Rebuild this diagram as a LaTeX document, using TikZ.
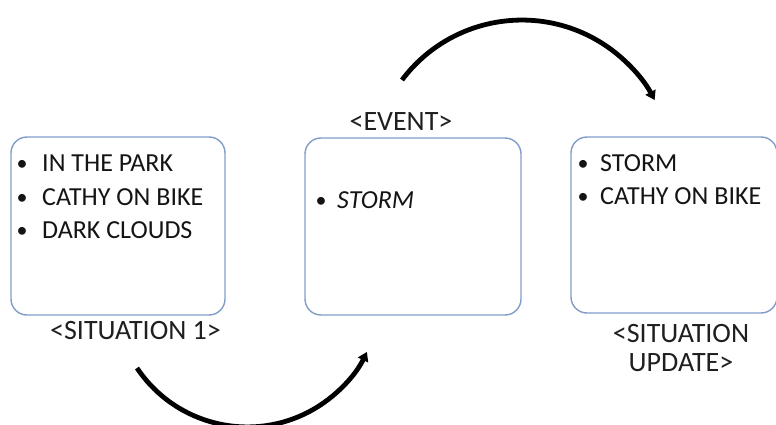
\documentclass[tikz,border=0pt]{standalone}
\usepackage{fontspec}
\setmainfont{Carlito}
\usetikzlibrary{arrows.meta}
\begin{document}
\begin{tikzpicture}[x=1pt,y=-1pt,
  box/.style={draw=boxblue,line width=1.4pt,rounded corners=16pt,inner sep=0pt},
  itemtext/.style={anchor=base west,inner sep=0pt,font=\fontsize{26}{30}\selectfont,text=black!92},
  bul/.style={anchor=base,inner sep=0pt,font=\fontsize{22}{30}\selectfont,text=black!92},
  lbl/.style={anchor=base,inner sep=0pt,font=\fontsize{28}{32}\selectfont,text=black!88},
  flow/.style={line width=4.8pt,-{Triangle[length=9pt,width=11pt]}}
]
\definecolor{boxblue}{RGB}{128,156,200}
\useasboundingbox (0,0) rectangle (776,425);
% boxes
\node[box,minimum width=214pt,minimum height=178pt] (b1) at (118,226) {};
\node[box,minimum width=216pt,minimum height=177pt] (b2) at (413,226.5) {};
\node[box,minimum width=206pt,minimum height=176pt] (b3) at (674,225) {};
% box 1 text
\node[bul] (b1a) at (22,170.5) {•};
\node[itemtext] (t1a) at (42,171.5) {IN THE PARK};
\node[bul] (b1b) at (22,204) {•};
\node[itemtext] (t1b) at (42,205) {CATHY ON BIKE};
\node[bul] (b1c) at (22,237.5) {•};
\node[itemtext] (t1c) at (42,238.5) {DARK CLOUDS};
% box 2 text
\node[bul] (b2a) at (321,207) {•};
\node[itemtext,font=\fontsize{26}{30}\selectfont\itshape] (t2a) at (337,208) {STORM};
% box 3 text
\node[bul] (b3a) at (583,170.5) {•};
\node[itemtext] (t3a) at (600,171.5) {STORM};
\node[bul] (b3b) at (583,203) {•};
\node[itemtext] (t3b) at (600,204) {CATHY ON BIKE};
% labels
\node[lbl,anchor=base west] (l1) at (50,339) {<SITUATION 1>};
\node[lbl] (l2) at (401,131) {<EVENT>};
\node[lbl] (l3a) at (681,342) {<SITUATION};
\node[lbl] (l3b) at (681,371) {UPDATE>};
% arrows
\coordinate (a1s) at (137,368);
\coordinate (a2s) at (402,80);
\draw[flow] (a1s) arc[start angle=146.2,end angle=25.8,radius=132.8];
\draw[flow] (a2s) arc[start angle=-143.1,end angle=-27.8,radius=150];
\end{tikzpicture}
\end{document}
